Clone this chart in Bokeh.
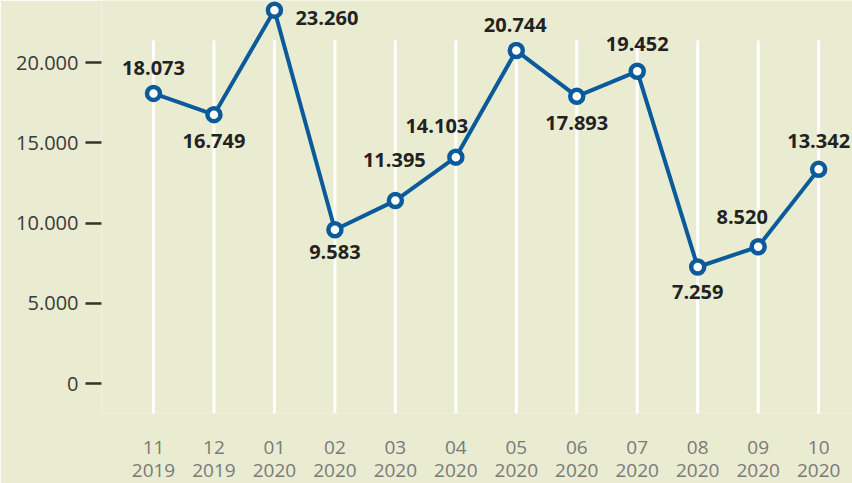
from bokeh.plotting import figure
from bokeh.models import ColumnDataSource, FixedTicker, Range1d, LinearAxis
from bokeh.embed import file_html
from bokeh.resources import INLINE
from bokeh.core.properties import value

# ---- data ----
months = ["11", "12", "01", "02", "03", "04", "05", "06", "07", "08", "09", "10"]
years = ["2019", "2019", "2020", "2020", "2020", "2020", "2020", "2020", "2020", "2020", "2020", "2020"]
counts = [18073, 16749, 23260, 9583, 11395, 14103, 20744, 17893, 19452, 7259, 8520, 13342]
y_ticks = [0, 5000, 10000, 15000, 20000]
y_tick_labels = ["0", "5.000", "10.000", "15.000", "20.000"]

# ---- label placement (styling) ----
lbl_dx = [0, 0, 21, 0, -1, -19, -1, 0, 0, 0, -16, 0]
lbl_dy = [-25, 26, 8, 22, -41, -31, -26, 27, -27, 25, -30, -28]
lbl_align = ["center", "center", "left", "center", "center", "center",
             "center", "center", "center", "center", "center", "center"]

BG = "#e9ecd0"
BLUE = "#0b5a9b"
FONT = "Open Sans"

idx = list(range(len(months)))
fmt = [f"{v:,}".replace(",", ".") for v in counts]

src = ColumnDataSource(dict(x=idx, y=counts, label=fmt, dx=lbl_dx, dy=lbl_dy, align=lbl_align))

p = figure(width=852, height=483, output_backend="svg", toolbar_location=None,
           x_range=Range1d(-0.86, 11.56), y_range=Range1d(-1869, 23863),
           min_border_left=101, min_border_right=0, min_border_top=0, min_border_bottom=70)
p.background_fill_color = BG
p.border_fill_color = BG
p.outline_line_color = None
p.xgrid.grid_line_color = None
p.ygrid.grid_line_color = None

# vertical white guide lines at each category
p.segment(x0=idx, x1=idx, y0=[-1869] * len(idx), y1=[21370] * len(idx),
          line_color="white", line_width=3)

p.line("x", "y", source=src, line_color=BLUE, line_width=4)
p.scatter("x", "y", source=src, size=13, fill_color="white", line_color=BLUE, line_width=4.5)

p.text("x", "y", text="label", source=src, x_offset="dx", y_offset="dy",
       text_align="align", text_baseline="middle",
       text_font=value(FONT), text_font_style="bold", text_font_size="20px",
       text_color="#222222")

# y axis
ya = p.yaxis[0]
ya.ticker = FixedTicker(ticks=y_ticks)
ya.major_label_overrides = {t: l for t, l in zip(y_ticks, y_tick_labels)}
ya.axis_line_color = None
ya.major_tick_in = 0
ya.major_tick_out = 16
ya.major_tick_line_color = "#333333"
ya.major_tick_line_width = 2.5
ya.minor_tick_line_color = None
ya.major_label_standoff = 7
ya.major_label_text_font = FONT
ya.major_label_text_font_size = "20px"
ya.major_label_text_color = "#3a3a3a"


def style_x(ax, labels, standoff):
    ax.ticker = FixedTicker(ticks=idx)
    ax.major_label_overrides = {i: s for i, s in zip(idx, labels)}
    ax.axis_line_color = None
    ax.major_tick_line_color = None
    ax.major_tick_in = 0
    ax.major_tick_out = 0
    ax.minor_tick_line_color = None
    ax.minor_tick_out = 0
    ax.major_label_standoff = standoff
    ax.major_label_text_font = FONT
    ax.major_label_text_font_size = "19px"
    ax.major_label_text_color = "#7a7a7a"


style_x(p.xaxis[0], months, 27)
year_axis = LinearAxis()
style_x(year_axis, years, 7)
p.add_layout(year_axis, "below")

open("out.html", "w").write(file_html(p, INLINE))
